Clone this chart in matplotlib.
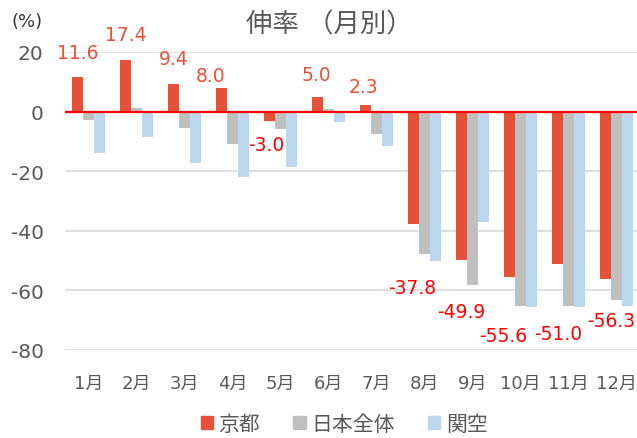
import matplotlib
matplotlib.use("Agg")
import matplotlib.pyplot as plt
from matplotlib.patches import Patch
import numpy as np

# Latin digits in a Verdana-like face, Japanese from Noto CJK
plt.rcParams["font.family"] = ["DejaVu Sans", "Noto Sans CJK JP"]

# ---- data -------------------------------------------------------------
months = ["1月", "2月", "3月", "4月", "5月", "6月",
          "7月", "8月", "9月", "10月", "11月", "12月"]
kyoto = [11.6, 17.4, 9.4, 8.0, -3.0, 5.0, 2.3, -37.8, -49.9, -55.6, -51.0, -56.3]
japan = [-2.7, 1.3, -5.4, -11.0, -5.7, 0.9, -7.5, -47.8, -58.1, -65.2, -65.2, -63.3]
kix = [-13.8, -8.4, -17.4, -21.9, -18.7, -3.4, -11.6, -50.3, -37.0, -65.7, -65.7, -65.2]
series_names = ["京都", "日本全体", "関空"]
yticks = [20, 0, -20, -40, -60, -80]

# ---- style ------------------------------------------------------------
c_kyoto = "#E8503A"
c_japan = "#BFBFBF"
c_kix = "#BDD7EE"
txt_gray = "#595959"
# label offsets from the end of each 京都 bar, in pixels (dx, dy)
label_offsets = [(0, 25), (0, 25), (0, 25), (-11, 12), (-3, -24), (-1, 22),
                 (-2, 18), (-1, -63), (0, -51), (-7, -58), (0, -70), (5, -41)]

fig = plt.figure(figsize=(6.37, 4.39), dpi=100)
ax = fig.add_axes([64.5 / 637, 1 - 351 / 439, (637 - 64.5) / 637, (351 - 53) / 439])

x = np.arange(len(months))
w = 0.23
ax.bar(x - w, kyoto, w, color=c_kyoto, zorder=3)
ax.bar(x, japan, w, color=c_japan, zorder=3)
ax.bar(x + w, kix, w, color=c_kix, zorder=3)

ax.set_ylim(-80, 20)
ax.set_xlim(-0.5, 11.42)
ax.set_yticks(yticks)
ax.set_yticklabels([str(v) for v in yticks])
ax.set_xticks(x)
ax.set_xticklabels(months)
ax.grid(axis="y", color="#D9D9D9", linewidth=1.2, zorder=0)
ax.axhline(0, color="#FF0000", linewidth=1.6, zorder=4)
for s in ax.spines.values():
    s.set_visible(False)
ax.tick_params(axis="both", length=0, labelcolor=txt_gray)
ax.tick_params(axis="y", pad=15, labelsize=14.5)
ax.tick_params(axis="x", pad=17, labelsize=13)

# value labels on the 京都 series
for xi, v, (dx, dy) in zip(x, kyoto, label_offsets):
    col = c_kyoto if v > 0 else "#FF0000"
    ax.annotate(f"{v:.1f}", xy=(xi - w, v), xytext=(dx, dy),
                textcoords="offset pixels", ha="center", va="center",
                color=col, fontsize=13.5, zorder=5, annotation_clip=False)

fig.text(329 / 637, 1 - 25 / 439, "伸率 （月別）", ha="center", va="center",
         fontsize=19, color=txt_gray)
fig.text(12 / 637, 1 - 22 / 439, "(%)", ha="left", va="center",
         fontsize=13, color="#333333")

handles = [Patch(color=c) for c in (c_kyoto, c_japan, c_kix)]
fig.legend(handles, series_names, loc="center", bbox_to_anchor=(344 / 637, 1 - 425 / 439),
           ncol=3, frameon=False, fontsize=15, handlelength=0.6, handleheight=0.6,
           handletextpad=0.25, columnspacing=1.6, labelcolor=txt_gray)

fig.savefig("out.png", dpi=100)
